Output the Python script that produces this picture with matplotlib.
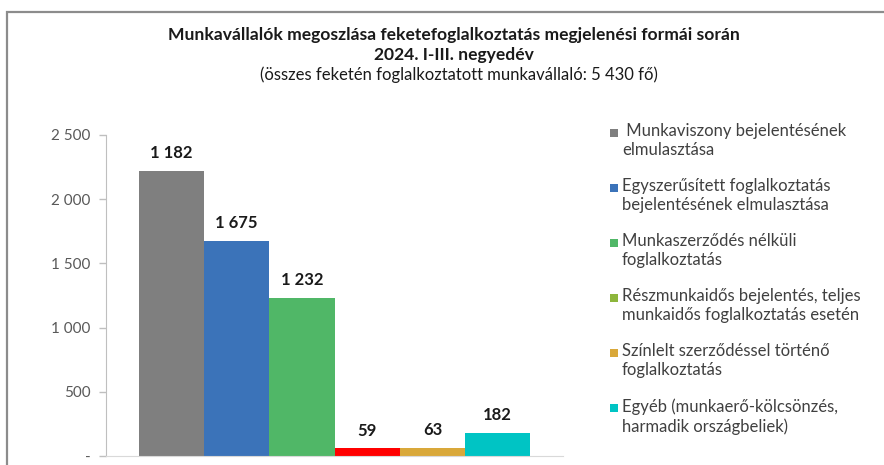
import matplotlib

matplotlib.use("Agg")

import matplotlib.pyplot as plt
from matplotlib.patches import Rectangle

plt.rcParams["font.family"] = ["Lato", "DejaVu Sans"]

categories = [
    " Munkaviszony bejelentésének\nelmulasztása",
    "Egyszerűsített foglalkoztatás\nbejelentésének elmulasztása",
    "Munkaszerződés nélküli\nfoglalkoztatás",
    "Részmunkaidős bejelentés, teljes\nmunkaidős foglalkoztatás esetén",
    "Színlelt szerződéssel történő\nfoglalkoztatás",
    "Egyéb (munkaerő-kölcsönzés,\nharmadik országbeliek)",
]
values = [2219, 1675, 1232, 59, 63, 182]
value_labels = ["1 182", "1 675", "1 232", "59", "63", "182"]
bar_colors = ["#7f7f7f", "#3b73b9", "#50b767", "#ff0000", "#d9a83a", "#00c4c4"]
legend_colors = ["#7f7f7f", "#3b73b9", "#50b767", "#8db63c", "#d9a83a", "#00c4c4"]
y_ticks = [0, 500, 1000, 1500, 2000, 2500]
y_tick_labels = ["-", "500", "1 000", "1 500", "2 000", "2 500"]

title_lines = [
    "Munkavállalók megoszlása feketefoglalkoztatás megjelenési formái során",
    "2024. I-III. negyedév",
    "(összes feketén foglalkoztatott munkavállaló: 5 430 fő)",
]

fig = plt.figure(figsize=(8.84, 4.65), dpi=100)
fig.patch.set_facecolor("white")

# outer frame (cut off at right and bottom)
fig.patches.append(Rectangle((7 / 884, -0.1), 1.2, 1 - 12 / 465 + 0.1,
                             transform=fig.transFigure, fill=False,
                             edgecolor="#8c8c8c", linewidth=1.6))

ax = fig.add_axes([106 / 884, 9 / 465, (563 - 106) / 884, (456 - 135) / 465])
x = list(range(len(values)))
ax.bar(x, values, width=1.0, color=bar_colors, edgecolor="none", zorder=2)
for xi, v, lab in zip(x, values, value_labels):
    ax.annotate(lab, (xi, v), xytext=(0, 7), textcoords="offset points",
                ha="center", va="bottom", fontsize=12, fontweight="bold",
                color="#1a1a1a")

ax.set_xlim(-1.0, 6.0)
ax.set_ylim(0, 2500)
ax.set_yticks(y_ticks)
ax.set_yticklabels(y_tick_labels)
ax.set_xticks([])
ax.tick_params(axis="y", colors="#bfbfbf", labelcolor="#595959",
               labelsize=11, length=5, width=1, pad=6)
for side in ["top", "right"]:
    ax.spines[side].set_visible(False)
ax.spines["left"].set_color("#bfbfbf")
ax.spines["bottom"].set_color("#d9d9d9")

# titles
fig.text(454 / 884, 1 - 35 / 465, title_lines[0], ha="center", va="center",
         fontsize=12.6, fontweight="bold", color="#1a1a1a")
fig.text(454 / 884, 1 - 55 / 465, title_lines[1], ha="center", va="center",
         fontsize=12.6, fontweight="bold", color="#1a1a1a")
fig.text(459 / 884, 1 - 75 / 465, title_lines[2], ha="center", va="center",
         fontsize=12, color="#1a1a1a")

# legend drawn manually to match spacing
for i, (lab, col) in enumerate(zip(categories, legend_colors)):
    y_top = 1 - (123 + i * 55) / 465
    fig.patches.append(Rectangle((610 / 884, y_top - 14 / 465), 8 / 884, 8 / 465,
                                 transform=fig.transFigure, facecolor=col,
                                 edgecolor="none"))
    fig.text(622 / 884, y_top, lab, ha="left", va="top", fontsize=12,
             color="#404040", linespacing=1.25)

fig.savefig("out.png", dpi=100, facecolor=fig.get_facecolor())
plt.close(fig)
